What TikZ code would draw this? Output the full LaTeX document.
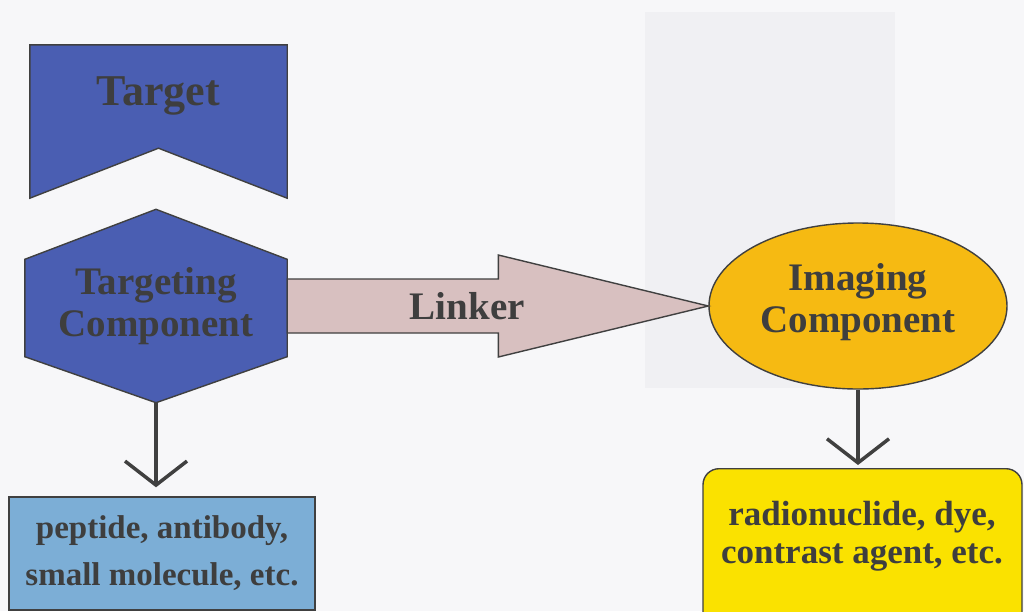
\documentclass[tikz,border=0pt]{standalone}
\usepackage{fontspec}
\setmainfont{Liberation Serif}
\usepackage{tikz}
\usetikzlibrary{arrows.meta,positioning,shapes.geometric,backgrounds}

\definecolor{paper}{RGB}{247,247,249}
\definecolor{ghost}{RGB}{240,240,243}
\definecolor{ink}{RGB}{62,62,62}
\definecolor{edge}{RGB}{64,64,64}
\definecolor{navy}{RGB}{74,94,178}
\definecolor{rose}{RGB}{216,192,192}
\definecolor{amber}{RGB}{246,186,18}
\definecolor{lemon}{RGB}{250,226,0}
\definecolor{sky}{RGB}{124,174,214}

\begin{document}
\begin{tikzpicture}[
  x=1pt, y=-1pt,
  big/.style={font=\fontsize{39}{42}\selectfont\bfseries,text=ink,align=center},
  small/.style={font=\fontsize{33}{47}\selectfont\bfseries,text=ink,align=center},
  outline/.style={draw=edge,line width=1.4pt},
  frame/.style={inner sep=0pt,minimum width=#1},
  conn/.style={draw=edge,line width=3.5pt,-{Straight Barb[length=24pt,width=62pt]}}
]
\useasboundingbox (0,0) rectangle (1024,611);
\begin{scope}[on background layer]
  \fill[paper] (0,0) rectangle (1024,611);
  \fill[ghost] (645,12) rectangle (895,388);
\end{scope}

% --- Target (notched banner) ---
\node[frame=257pt,minimum height=153pt] (target) at (158.5,121.5) {};
\draw[outline,fill=navy] (target.north west) -- (target.north east)
  -- (target.south east) -- ([yshift=50pt]target.south) -- (target.south west) -- cycle;
\node[big,font=\fontsize{44}{46}\selectfont\bfseries] (targetlbl) at ([yshift=-51pt]target.north) {Target};

% --- Targeting component (hexagon) ---
\node[big,frame=262pt,minimum height=193pt] (tc) at (156,306) {Targeting\\Component};
\begin{scope}[on background layer]
  \draw[outline,fill=navy] (tc.north) -- ([yshift=-50pt]tc.north east)
    -- ([yshift=46pt]tc.south east) -- (tc.south)
    -- ([yshift=46pt]tc.south west) -- ([yshift=-50pt]tc.north west) -- cycle;
\end{scope}

% --- Imaging component ---
\node[ellipse,outline,fill=amber,minimum width=298pt,minimum height=166pt,inner sep=0pt]
  (imaging) at (858,306) {};
\node[big] (imaginglbl) at ([yshift=4pt]imaging.center) {Imaging\\Component};

% --- Linker (block arrow) ---
\draw[outline,fill=rose] ([yshift=27pt]tc.east) -- ([xshift=-210pt,yshift=27pt]imaging.west)
  -- ([xshift=-210pt,yshift=51pt]imaging.west) -- (imaging.west)
  -- ([xshift=-210pt,yshift=-51pt]imaging.west) -- ([xshift=-210pt,yshift=-27pt]imaging.west)
  -- ([yshift=-27pt]tc.east) -- cycle;
\node[big] (linker) at ([xshift=180pt]tc.east) {Linker};

% --- Examples ---
\node[small,outline,fill=sky,minimum width=306pt,minimum height=113pt] (pep) at (162,553.5)
  {peptide, antibody,\\small molecule, etc.};
\node[outline,fill=lemon,rounded corners=16pt,minimum width=319pt,minimum height=160pt,anchor=north]
  (agents) at (862.5,468) {};
\node[small,font=\fontsize{35}{38}\selectfont\bfseries] (agentlbl) at (862,536)
  {radionuclide, dye,\\contrast agent, etc.};

% --- Arrows ---
\draw[conn,shorten >=9pt] (tc.south) -- (tc.south |- pep.north);
\draw[conn,shorten >=3pt] (imaging.south) -- (imaging.south |- agents.north);
\end{tikzpicture}
\end{document}
